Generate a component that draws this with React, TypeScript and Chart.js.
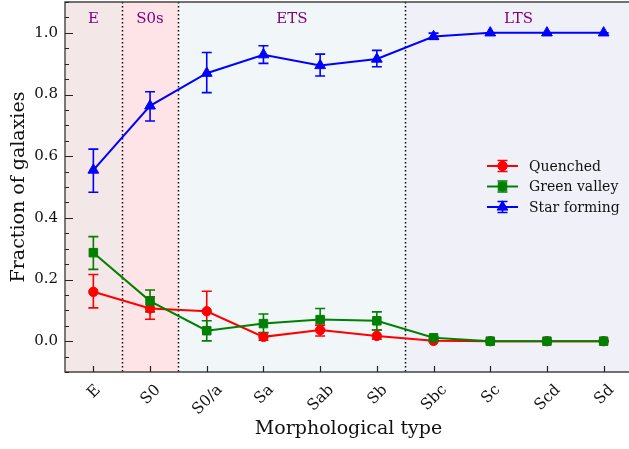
import { useEffect, useRef } from "react";
import { Chart, registerables } from "chart.js";

Chart.register(...registerables);

// ---------- data ----------
const CATEGORIES = ["E", "S0", "S0/a", "Sa", "Sab", "Sb", "Sbc", "Sc", "Scd", "Sd"];

const QUENCHED = [0.16, 0.106, 0.097, 0.014, 0.036, 0.017, 0.001, 0, 0, 0];
const QUENCHED_LO = [0.108, 0.071, 0.035, 0.003, 0.017, 0.006, 0.0, 0, 0, 0];
const QUENCHED_HI = [0.216, 0.144, 0.162, 0.027, 0.052, 0.036, 0.003, 0, 0, 0];

const GREEN_VALLEY = [0.287, 0.13, 0.034, 0.057, 0.07, 0.066, 0.011, 0, 0, 0];
const GREEN_VALLEY_LO = [0.233, 0.095, 0.001, 0.028, 0.036, 0.036, 0.007, 0, 0, 0];
const GREEN_VALLEY_HI = [0.339, 0.166, 0.066, 0.088, 0.106, 0.095, 0.015, 0, 0, 0];

const STAR_FORMING = [0.555, 0.763, 0.869, 0.929, 0.894, 0.915, 0.988, 1, 1, 1];
const STAR_FORMING_LO = [0.483, 0.714, 0.806, 0.901, 0.86, 0.89, 0.98, 1, 1, 1];
const STAR_FORMING_HI = [0.623, 0.809, 0.936, 0.958, 0.931, 0.943, 0.999, 1, 1, 1];

const Y_TICKS = [0, 0.2, 0.4, 0.6, 0.8, 1.0];
const Y_MIN = -0.1;
const Y_MAX = 1.1;

const REGION_LABELS = ["E", "S0s", "ETS", "LTS"];
const REGION_FROM = [-0.5, 0.5, 1.5, 5.5];
const REGION_TO = [0.5, 1.5, 5.5, 9.5];
const DIVIDERS = [0.5, 1.5, 5.5];

const SERIES_LABELS = ["Quenched", "Green valley", "Star forming"];

// ---------- styles ----------
const REGION_COLORS = ["#f3e7e7", "#fee4e6", "#f1f6f8", "#f0f1f8"];
const SERIES_COLORS = ["#ff0000", "#008000", "#0000ff"];
const FONT = "'DejaVu Serif', serif";

const SERIES = [
  { label: SERIES_LABELS[0], values: QUENCHED, lo: QUENCHED_LO, hi: QUENCHED_HI, color: SERIES_COLORS[0], style: "circle", r: 4.7 },
  { label: SERIES_LABELS[1], values: GREEN_VALLEY, lo: GREEN_VALLEY_LO, hi: GREEN_VALLEY_HI, color: SERIES_COLORS[1], style: "rect", r: 6 },
  { label: SERIES_LABELS[2], values: STAR_FORMING, lo: STAR_FORMING_LO, hi: STAR_FORMING_HI, color: SERIES_COLORS[2], style: "triangle", r: 6.2 },
];

function drawMarker(ctx: CanvasRenderingContext2D, style: string, x: number, y: number, r: number, color: string) {
  ctx.save();
  ctx.fillStyle = color;
  ctx.strokeStyle = color;
  ctx.lineWidth = 1;
  ctx.beginPath();
  if (style === "circle") {
    ctx.arc(x, y, r, 0, Math.PI * 2);
  } else if (style === "rect") {
    const s = r * Math.SQRT1_2;
    ctx.rect(x - s, y - s, 2 * s, 2 * s);
  } else {
    let rad = 0;
    ctx.moveTo(x + Math.sin(rad) * r, y - Math.cos(rad) * r);
    rad += (2 * Math.PI) / 3;
    ctx.lineTo(x + Math.sin(rad) * r, y - Math.cos(rad) * r);
    rad += (2 * Math.PI) / 3;
    ctx.lineTo(x + Math.sin(rad) * r, y - Math.cos(rad) * r);
    ctx.closePath();
  }
  ctx.fill();
  ctx.stroke();
  ctx.restore();
}

function drawErrorBar(ctx: CanvasRenderingContext2D, x: number, yTop: number, yBot: number, color: string) {
  const cap = 5;
  ctx.save();
  ctx.strokeStyle = color;
  ctx.lineWidth = 1.6;
  ctx.beginPath();
  ctx.moveTo(x, yTop);
  ctx.lineTo(x, yBot);
  ctx.moveTo(x - cap, yTop);
  ctx.lineTo(x + cap, yTop);
  ctx.moveTo(x - cap, yBot);
  ctx.lineTo(x + cap, yBot);
  ctx.stroke();
  ctx.restore();
}

const decorPlugin = {
  id: "decor",
  beforeDatasetsDraw(chart: any) {
    const { ctx, chartArea } = chart;
    const xs = chart.scales.x;
    const ys = chart.scales.y;
    ctx.save();
    // bands
    REGION_LABELS.forEach((_, i) => {
      const x0 = xs.getPixelForValue(REGION_FROM[i]);
      const x1 = xs.getPixelForValue(REGION_TO[i]);
      ctx.fillStyle = REGION_COLORS[i];
      ctx.fillRect(x0, chartArea.top, x1 - x0, chartArea.bottom - chartArea.top);
    });
    // dividers
    ctx.strokeStyle = "#000";
    ctx.lineWidth = 1.5;
    ctx.setLineDash([1.5, 2.5]);
    DIVIDERS.forEach((d) => {
      const x = Math.round(xs.getPixelForValue(d)) + 0.5;
      ctx.beginPath();
      ctx.moveTo(x, chartArea.top);
      ctx.lineTo(x, chartArea.bottom);
      ctx.stroke();
    });
    ctx.setLineDash([]);
    // region labels
    ctx.fillStyle = "#800080";
    ctx.font = `15px ${FONT}`;
    ctx.textAlign = "center";
    ctx.textBaseline = "middle";
    REGION_LABELS.forEach((lab, i) => {
      const x = xs.getPixelForValue((REGION_FROM[i] + REGION_TO[i]) / 2);
      ctx.fillText(lab, x, chartArea.top + 17.5);
    });
    // error bars
    SERIES.forEach((s) => {
      s.values.forEach((_, i) => {
        const x = xs.getPixelForValue(i);
        drawErrorBar(ctx, x, ys.getPixelForValue(s.hi[i]), ys.getPixelForValue(s.lo[i]), s.color);
      });
    });
    ctx.restore();
  },
  afterDraw(chart: any) {
    const { ctx, chartArea } = chart;
    const xs = chart.scales.x;
    const ys = chart.scales.y;
    ctx.save();
    // spines (left, top, bottom; right one lies outside the picture)
    ctx.strokeStyle = "#444";
    ctx.lineWidth = 1.4;
    ctx.beginPath();
    ctx.moveTo(chartArea.right + 2, chartArea.top);
    ctx.lineTo(chartArea.left, chartArea.top);
    ctx.lineTo(chartArea.left, chartArea.bottom);
    ctx.lineTo(chartArea.right + 2, chartArea.bottom);
    ctx.stroke();
    // ticks
    ctx.strokeStyle = "#222";
    ctx.lineWidth = 1.2;
    ctx.beginPath();
    CATEGORIES.forEach((_, i) => {
      const x = Math.round(xs.getPixelForValue(i)) + 0.5;
      ctx.moveTo(x, chartArea.bottom);
      ctx.lineTo(x, chartArea.bottom - 6);
    });
    for (let k = Math.ceil(Y_MIN / 0.05); k * 0.05 <= Y_MAX + 1e-9; k++) {
      const v = k * 0.05;
      const major = Y_TICKS.some((t) => Math.abs(t - v) < 1e-6);
      const y = Math.round(ys.getPixelForValue(v)) + 0.5;
      ctx.moveTo(chartArea.left, y);
      ctx.lineTo(chartArea.left + (major ? 8 : 4), y);
    }
    ctx.stroke();
    // x tick labels, rotated 45 deg, centred on tick
    ctx.fillStyle = "#111";
    ctx.font = `15.5px ${FONT}`;
    ctx.textAlign = "center";
    ctx.textBaseline = "middle";
    CATEGORIES.forEach((lab, i) => {
      const x = xs.getPixelForValue(i);
      const w = ctx.measureText(lab).width;
      const box = (w + 11) * Math.SQRT1_2;
      const cy = chartArea.bottom + 11 + box / 2;
      ctx.save();
      ctx.translate(x, cy);
      ctx.rotate(-Math.PI / 4);
      ctx.fillText(lab, 0, 1);
      ctx.restore();
    });
    // axis titles
    ctx.font = `19px ${FONT}`;
    ctx.fillStyle = "#111";
    ctx.fillText("Morphological type", (chartArea.left + chartArea.right) / 2, 429);
    ctx.save();
    ctx.translate(19, (chartArea.top + chartArea.bottom) / 2);
    ctx.rotate(-Math.PI / 2);
    ctx.fillText("Fraction of galaxies", 0, 0);
    ctx.restore();
    // legend
    const lx0 = chartArea.left + 422;
    const lx1 = lx0 + 31;
    const lxm = (lx0 + lx1) / 2;
    ctx.font = `14px ${FONT}`;
    ctx.textAlign = "left";
    SERIES.forEach((s, i) => {
      const y = chartArea.top + 164 + i * 20.5;
      ctx.strokeStyle = s.color;
      ctx.lineWidth = 2;
      ctx.beginPath();
      ctx.moveTo(lx0, y);
      ctx.lineTo(lx1, y);
      ctx.stroke();
      drawErrorBar(ctx, lxm, y - 5.5, y + 5.5, s.color);
      drawMarker(ctx, s.style, lxm, y, s.r, s.color);
      ctx.fillStyle = "#111";
      ctx.fillText(s.label, lx1 + 11, y + 1);
    });
    ctx.restore();
  },
};

export default function App() {
  const ref = useRef<HTMLCanvasElement | null>(null);
  useEffect(() => {
    if (!ref.current) return;
    const chart = new Chart(ref.current, {
      type: "line",
      data: {
        datasets: SERIES.map((s, idx) => ({
          label: s.label,
          data: s.values.map((v, i) => ({ x: i, y: v })),
          borderColor: s.color,
          backgroundColor: s.color,
          borderWidth: 2,
          pointStyle: s.style as any,
          pointRadius: s.r,
          pointBorderWidth: 1,
          pointBackgroundColor: s.color,
          pointBorderColor: s.color,
          tension: 0,
          order: 3 - idx,
        })),
      },
      options: {
        responsive: false,
        animation: false,
        devicePixelRatio: 1,
        layout: { autoPadding: false, padding: { left: 0, top: 2, right: 28, bottom: 0 } },
        plugins: { legend: { display: false }, tooltip: { enabled: false } },
        scales: {
          x: {
            type: "linear",
            min: -0.5,
            max: 9.5,
            grid: { display: false, drawTicks: false },
            border: { display: false },
            ticks: { display: false },
            afterFit(scale: any) {
              scale.height = 77;
              scale.paddingLeft = 0;
              scale.paddingRight = 0;
            },
          },
          y: {
            type: "linear",
            min: Y_MIN,
            max: Y_MAX,
            grid: { display: false, drawTicks: false },
            border: { display: false },
            afterBuildTicks(scale: any) {
              scale.ticks = Y_TICKS.map((v) => ({ value: v }));
            },
            ticks: {
              font: { family: "DejaVu Serif", size: 15 },
              color: "#111",
              padding: 7,
              callback: (v: any) => Number(v).toFixed(1),
            },
            afterFit(scale: any) {
              scale.width = 65;
              scale.paddingTop = 0;
              scale.paddingBottom = 0;
            },
          },
        },
      },
      plugins: [decorPlugin],
    });
    return () => chart.destroy();
  }, []);
  return (
    <div style={{ position: "fixed", left: 0, top: 0, width: 629, height: 449, overflow: "hidden", background: "#fff" }}>
      <canvas ref={ref} width={660} height={449} style={{ display: "block" }} />
    </div>
  );
}
